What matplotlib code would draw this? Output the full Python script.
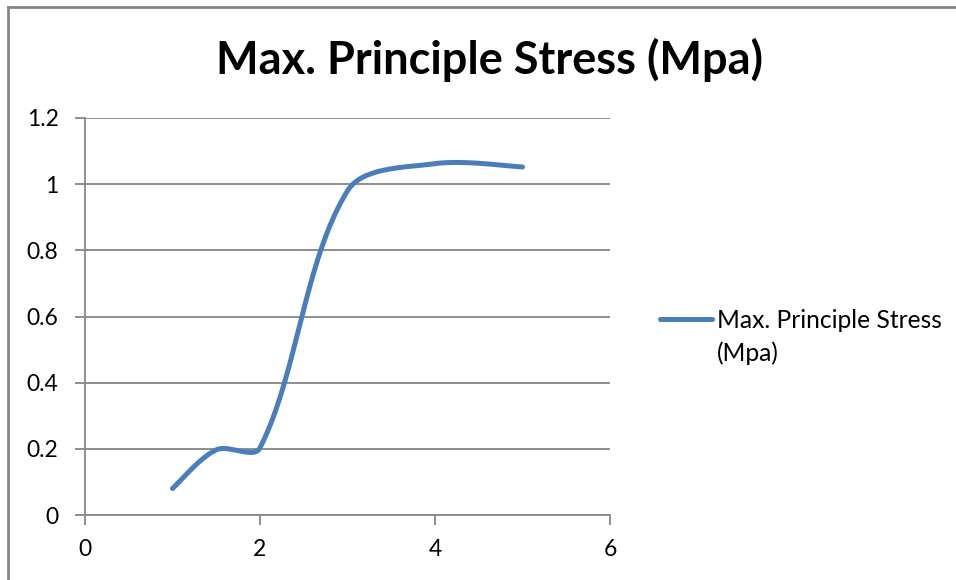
import numpy as np
import matplotlib.pyplot as plt
from matplotlib.lines import Line2D

plt.rcParams['font.family'] = ['Lato', 'DejaVu Sans']

x_vals = [1, 1.5, 2, 3, 4, 5]
stress = [0.08, 0.197, 0.203, 0.98, 1.062, 1.052]
series_name = "Max. Principle Stress\n(Mpa)"
title = "Max. Principle Stress (Mpa)"

LINE = "#4a7ebb"
GRID = "#868686"

AX_W, AX_H = 525, 397          # plot area in pixels
XLIM, YLIM = (0, 6), (0, 1.2)


def smooth(xs, ys, n=60):
    # chord-weighted bezier spline, built in screen space
    sx = AX_W / (XLIM[1] - XLIM[0])
    sy = AX_H / (YLIM[1] - YLIM[0])
    p = np.column_stack([np.asarray(xs) * sx, np.asarray(ys) * sy]).astype(float)
    k = len(p)
    d = np.linalg.norm(np.diff(p, axis=0), axis=1)
    out = []
    for i in range(k - 1):
        p1, p2 = p[i], p[i + 1]
        if i > 0:
            c1 = p1 + (p2 - p[i - 1]) * d[i] / (d[i - 1] + d[i]) / 3
        else:
            c1 = p1 + (p2 - p1) / 6
        if i + 2 < k:
            c2 = p2 - (p[i + 2] - p1) * d[i] / (d[i] + d[i + 1]) / 3
        else:
            c2 = p2 - (p2 - p1) / 6
        t = np.linspace(0, 1, n)[:, None]
        seg = (1 - t) ** 3 * p1 + 3 * (1 - t) ** 2 * t * c1 + 3 * (1 - t) * t ** 2 * c2 + t ** 3 * p2
        out.append(seg)
    pts = np.vstack(out)
    return pts[:, 0] / sx, pts[:, 1] / sy


fig = plt.figure(figsize=(9.56, 5.8), dpi=100)
ax = fig.add_axes([85 / 956, 1 - 515 / 580, AX_W / 956, AX_H / 580])

cx, cy = smooth(x_vals, stress)
ax.plot(cx, cy, color=LINE, lw=3.6, solid_capstyle='round')

ax.set_xlim(*XLIM)
ax.set_ylim(*YLIM)
ax.set_xticks([0, 2, 4, 6])
ax.set_yticks(np.arange(0, 1.21, 0.2))
ax.set_yticklabels(["0", "0.2", "0.4", "0.6", "0.8", "1", "1.2"])
ax.grid(axis='y', color=GRID, lw=1.3)
ax.set_axisbelow(True)
for side in ['top', 'right']:
    ax.spines[side].set_visible(False)
for side in ['left', 'bottom']:
    ax.spines[side].set_color(GRID)
    ax.spines[side].set_linewidth(1.3)
ax.tick_params(axis='both', direction='out', length=7, width=1.3, color=GRID,
               labelsize=16.5, labelcolor='black')
ax.tick_params(axis='y', pad=12)
ax.tick_params(axis='x', pad=10)

fig.text(489 / 956, 1 - 60 / 580, title, ha='center', va='center',
         fontsize=32.5, fontweight='bold')

# legend key: line next to the first text line
fig.add_artist(Line2D([660 / 956, 712 / 956], [1 - 319 / 580, 1 - 319 / 580],
                      color=LINE, lw=3.6, solid_capstyle='round',
                      transform=fig.transFigure))
fig.text(717 / 956, 1 - 309 / 580, series_name, ha='left', va='top',
         fontsize=17.7, linespacing=1.47)

# chart frame: left and top edges
fig.add_artist(Line2D([8 / 956, 8 / 956], [0, 1 - 7 / 580], color=GRID, lw=2,
                      transform=fig.transFigure))
fig.add_artist(Line2D([8 / 956, 1], [1 - 7 / 580, 1 - 7 / 580], color=GRID, lw=2,
                      transform=fig.transFigure))

plt.savefig("out.png", dpi=100)
plt.close()
